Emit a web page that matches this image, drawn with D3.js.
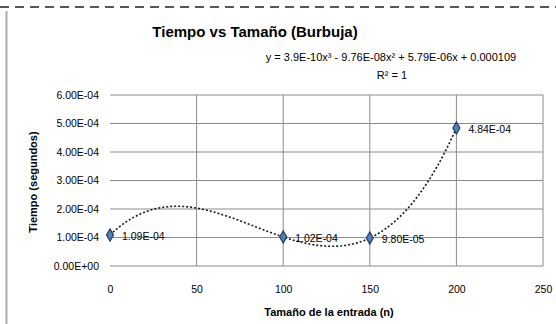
<!DOCTYPE html>
<html>
<head>
<meta charset="utf-8">
<script src="https://cdn.jsdelivr.net/npm/d3@7"></script>
<style>
  body { margin: 0; background: #fff; }
  svg { font-family: "Liberation Sans", Arial, sans-serif; }
</style>
</head>
<body>
<svg id="chart" width="556" height="324"></svg>
<script>
// data
const sizes = [0, 100, 150, 200];
const times = [0.000109, 0.000102, 0.000098, 0.000484];
const xTicks = [0, 50, 100, 150, 200, 250];
const yTicks = [0, 0.0001, 0.0002, 0.0003, 0.0004, 0.0005, 0.0006];

const chartTitle = 'Tiempo vs Tamaño (Burbuja)';
const xTitle = 'Tamaño de la entrada (n)';
const yTitle = 'Tiempo (segundos)';

const svg = d3.select('#chart');

// frame of the screenshot: dashed top edge and grey left edge
svg.append('line')
  .attr('x1', 0).attr('x2', 556).attr('y1', 7).attr('y2', 7)
  .style('stroke', '#222').style('stroke-width', 1.6)
  .style('stroke-dasharray', '9,6');
svg.append('line')
  .attr('x1', 6.5).attr('x2', 6.5).attr('y1', 11).attr('y2', 324)
  .style('stroke', '#aaa').style('stroke-width', 2);

const x = d3.scaleLinear().domain([0, 250]).range([110, 543]);
const y = d3.scaleLinear().domain([0, 0.0006]).range([266, 95]);

// excel style number: 1.09E-04
function sci(v, digits) {
  if (v === 0) return (0).toFixed(digits) + 'E+00';
  const s = Math.abs(v).toExponential(digits).toUpperCase();
  const [m, e] = s.split('E');
  const sign = e[0];
  const ex = e.slice(1).padStart(2, '0');
  return (v < 0 ? '-' : '') + m + 'E' + sign + ex;
}

// gridlines
svg.append('g')
  .selectAll('line')
  .data(yTicks)
  .enter()
  .append('line')
  .attr('x1', x(0)).attr('x2', x(250))
  .attr('y1', d => y(d)).attr('y2', d => y(d))
  .style('stroke', '#8c8c8c').style('stroke-width', 1);

svg.append('g')
  .selectAll('line')
  .data(xTicks.slice(1))
  .enter()
  .append('line')
  .attr('x1', d => x(d)).attr('x2', d => x(d))
  .attr('y1', y(0)).attr('y2', y(0.0006))
  .style('stroke', '#8c8c8c').style('stroke-width', 1);

// axes
const yAxis = svg.append('g')
  .attr('transform', 'translate(102,0)')
  .call(d3.axisLeft(y).tickValues(yTicks).tickSize(0).tickFormat(d => sci(d, 2)));
yAxis.select('.domain').remove();
yAxis.selectAll('text').style('font-size', '10.5px').style('fill', '#000');

const xAxis = svg.append('g')
  .attr('transform', 'translate(0,283)')
  .call(d3.axisBottom(x).tickValues(xTicks).tickSize(0).tickFormat(d3.format('d')));
xAxis.select('.domain').remove();
xAxis.selectAll('text').style('font-size', '10.5px').style('fill', '#000');

// cubic trendline through the points (least squares on the measured values)
function polyFit(xs, ys, order) {
  const n = order + 1;
  const A = [];
  for (let r = 0; r < n; r++) {
    const row = [];
    for (let c = 0; c < n; c++) row.push(d3.sum(xs, v => Math.pow(v, r + c)));
    row.push(d3.sum(xs, (v, i) => ys[i] * Math.pow(v, r)));
    A.push(row);
  }
  for (let i = 0; i < n; i++) {
    let p = i;
    for (let k = i + 1; k < n; k++) if (Math.abs(A[k][i]) > Math.abs(A[p][i])) p = k;
    [A[i], A[p]] = [A[p], A[i]];
    for (let k = i + 1; k < n; k++) {
      const f = A[k][i] / A[i][i];
      for (let c = i; c <= n; c++) A[k][c] -= f * A[i][c];
    }
  }
  const coef = new Array(n).fill(0);
  for (let i = n - 1; i >= 0; i--) {
    let s = A[i][n];
    for (let c = i + 1; c < n; c++) s -= A[i][c] * coef[c];
    coef[i] = s / A[i][i];
  }
  return coef;
}
const coef = polyFit(sizes, times, 3);
const trend = v => coef.reduce((s, c, i) => s + c * Math.pow(v, i), 0);
const trendX = d3.range(0, 200.5, 2);

svg.append('path')
  .datum(trendX)
  .attr('d', d3.line().x(d => x(d)).y(d => y(trend(d))))
  .style('fill', 'none')
  .style('stroke', '#1a1a1a')
  .style('stroke-width', 1.6)
  .style('stroke-dasharray', '2,2');

// markers
svg.append('g')
  .selectAll('path')
  .data(sizes)
  .enter()
  .append('path')
  .attr('transform', (d, i) => `translate(${x(d)},${y(times[i])})`)
  .attr('d', d3.symbol().type(d3.symbolDiamond).size(42))
  .style('fill', '#4f81bd')
  .style('stroke', '#1f3a5c')
  .style('stroke-width', 1.2);

// data labels
svg.append('g')
  .selectAll('text')
  .data(sizes)
  .enter()
  .append('text')
  .attr('x', d => x(d) + 12)
  .attr('y', (d, i) => y(times[i]) + 5)
  .style('font-size', '10.5px')
  .style('fill', '#000')
  .text((d, i) => sci(times[i], 2));

// title, equation, axis titles
svg.append('text')
  .attr('x', 255).attr('y', 37)
  .attr('text-anchor', 'middle')
  .style('font-size', '15px').style('font-weight', 'bold')
  .text(chartTitle);

let eq = 'y = ' + sci(coef[3], 1).replace('.0E', 'E') + 'x³';
eq += (coef[2] < 0 ? ' - ' : ' + ') + sci(Math.abs(coef[2]), 2) + 'x²';
eq += (coef[1] < 0 ? ' - ' : ' + ') + sci(Math.abs(coef[1]), 2) + 'x';
eq += (coef[0] < 0 ? ' - ' : ' + ') + d3.format('.6f')(Math.abs(coef[0]));

svg.append('text')
  .attr('x', 391).attr('y', 61)
  .attr('text-anchor', 'middle')
  .style('font-size', '11px')
  .text(eq);
svg.append('text')
  .attr('x', 392).attr('y', 79)
  .attr('text-anchor', 'middle')
  .style('font-size', '11px')
  .text('R² = 1');

svg.append('text')
  .attr('x', 329).attr('y', 316)
  .attr('text-anchor', 'middle')
  .style('font-size', '11px').style('font-weight', 'bold')
  .text(xTitle);

svg.append('text')
  .attr('transform', 'translate(37,182) rotate(-90)')
  .attr('text-anchor', 'middle')
  .style('font-size', '11px').style('font-weight', 'bold')
  .text(yTitle);
</script>
</body>
</html>
